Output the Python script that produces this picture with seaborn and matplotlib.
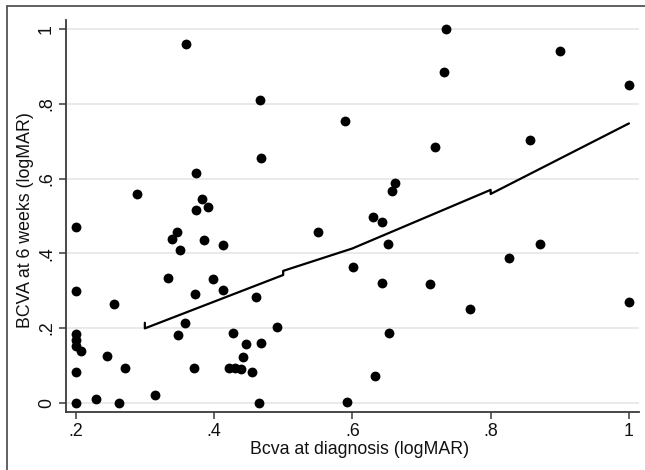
import numpy as np
import pandas as pd
import seaborn as sns
import matplotlib.pyplot as plt
from matplotlib.lines import Line2D

# BCVA at diagnosis vs BCVA at 6 weeks (logMAR)
bcva_diag = [0.200, 0.200, 0.200, 0.200, 0.200, 0.207, 0.200, 0.200,
             0.230, 0.245, 0.256, 0.263, 0.272, 0.289, 0.314,
             0.334, 0.339, 0.347, 0.351, 0.348, 0.358, 0.359,
             0.374, 0.3735, 0.383, 0.392, 0.385, 0.3725, 0.3715,
             0.398, 0.413, 0.413, 0.4275, 0.446, 0.442, 0.422, 0.431, 0.439,
             0.455, 0.461, 0.468, 0.465, 0.4665, 0.468, 0.491,
             0.551, 0.590, 0.593, 0.601, 0.630, 0.633, 0.643, 0.643,
             0.652, 0.653, 0.657, 0.661,
             0.712, 0.7195, 0.7325, 0.736, 0.770, 0.8265, 0.857, 0.872,
             0.9003, 1.000, 1.000]
bcva_6wk = [0.470, 0.299, 0.184, 0.168, 0.151, 0.138, 0.083, 0.000,
            0.010, 0.126, 0.263, 0.000, 0.094, 0.560, 0.021,
            0.333, 0.439, 0.457, 0.408, 0.180, 0.214, 0.962,
            0.614, 0.515, 0.546, 0.524, 0.436, 0.291, 0.094,
            0.331, 0.422, 0.302, 0.187, 0.157, 0.123, 0.094, 0.092, 0.090,
            0.081, 0.282, 0.160, 0.000, 0.811, 0.656, 0.2035,
            0.456, 0.755, 0.002, 0.364, 0.4965, 0.0715, 0.483, 0.321,
            0.425, 0.1875, 0.567, 0.589,
            0.318, 0.686, 0.885, 1.000, 0.250, 0.387, 0.703, 0.426,
            0.943, 0.851, 0.2705]

# fitted (piecewise) prediction line
fit_x = [0.3, 0.3, 0.5, 0.5, 0.6, 0.8, 0.8, 1.0]
fit_y = [0.214, 0.199, 0.342, 0.353, 0.413, 0.570, 0.559, 0.748]

x_ticks = [0.2, 0.4, 0.6, 0.8, 1.0]
x_tick_labels = ['.2', '.4', '.6', '.8', '1']
y_ticks = [0, 0.2, 0.4, 0.6, 0.8, 1.0]
y_tick_labels = ['0', '.2', '.4', '.6', '.8', '1']

sns.set_theme(style="white")
plt.rcParams['font.family'] = ['Liberation Sans', 'DejaVu Sans']

df = pd.DataFrame({'diag': bcva_diag, 'wk6': bcva_6wk})
fit = pd.DataFrame({'x': fit_x, 'y': fit_y})

W, H = 645, 470
fig = plt.figure(figsize=(W / 100, H / 100), dpi=100)
ax = fig.add_axes([66 / W, (H - 412) / H, (639 - 66) / W, (412 - 20) / H])

sns.scatterplot(data=df, x='diag', y='wk6', ax=ax, color='black',
                s=50, linewidth=0, zorder=3)
sns.lineplot(data=fit, x='x', y='y', ax=ax, sort=False, estimator=None,
             color='black', linewidth=1.6, zorder=4)

ax.set_xlim(0.186, 1.0145)
ax.set_ylim(-0.025, 1.025)
ax.set_xticks(x_ticks)
ax.set_xticklabels(x_tick_labels)
ax.set_yticks(y_ticks)
ax.set_yticklabels(y_tick_labels, rotation=90, va='center')

ax.grid(axis='y', color='#e6e6e6', linewidth=1.2)
ax.set_axisbelow(True)
for side in ['top', 'right']:
    ax.spines[side].set_visible(False)
for side in ['left', 'bottom']:
    ax.spines[side].set_color('#3a3a3a')
    ax.spines[side].set_linewidth(1.3)
ax.tick_params(axis='both', direction='out', length=5, width=1.1,
               color='#3a3a3a', labelsize=12.8, labelcolor='#111111', pad=3,
               bottom=True, left=True)

ax.set_xlabel('Bcva at diagnosis (logMAR)', fontsize=12.8, color='#111111')
ax.set_ylabel('BCVA at 6 weeks (logMAR)', fontsize=12.8, color='#111111')
ax.xaxis.set_label_coords((360 - 66) / 573, -0.075)
ax.yaxis.set_label_coords(-0.055, 0.49)

# outer frame (top and left edges visible in the crop)
fig.add_artist(Line2D([7 / W, 7 / W], [0, 1 - 6 / H], transform=fig.transFigure,
                      color='#555555', linewidth=1.3))
fig.add_artist(Line2D([7 / W, 1], [1 - 6 / H, 1 - 6 / H], transform=fig.transFigure,
                      color='#555555', linewidth=1.3))

fig.savefig('out.png', dpi=100, facecolor='white')
